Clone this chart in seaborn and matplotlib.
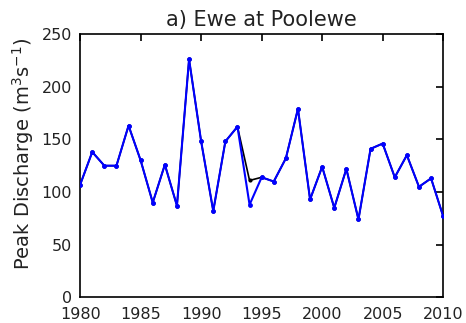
import matplotlib
matplotlib.use("Agg")
import matplotlib.pyplot as plt
import seaborn as sns
import pandas as pd

years = list(range(1980, 2011))
peak_blue = [107, 138, 125, 125, 163, 130, 90, 126, 87, 226, 148, 82,
             148, 162, 88, 114, 110, 132, 179, 93, 124, 85, 122, 74,
             141, 146, 114, 135, 105, 113, 77]
# second series (drawn underneath in black), differs only in 1994
peak_black = [107, 138, 125, 125, 163, 130, 90, 126, 87, 226, 148, 82,
              148, 162, 111, 114, 110, 132, 179, 93, 124, 85, 122, 74,
              141, 146, 114, 135, 105, 113, 77]
xticks = [1980, 1985, 1990, 1995, 2000, 2005, 2010]
yticks = [0, 50, 100, 150, 200, 250]

sns.set_style("white")
plt.rcParams['font.family'] = ['DejaVu Sans']

df_blue = pd.DataFrame({"year": years, "peak": peak_blue})
df_black = pd.DataFrame({"year": years, "peak": peak_black})

fig = plt.figure(figsize=(4.66, 3.23), dpi=100)
ax = fig.add_axes([0.172, 0.079, 0.779, 0.816])

sns.lineplot(data=df_black, x="year", y="peak", ax=ax, color="black",
             linewidth=1.2, marker="o", markersize=3, markeredgewidth=0, zorder=2)
sns.lineplot(data=df_blue, x="year", y="peak", ax=ax, color="#0000ff",
             linewidth=1.5, marker="o", markersize=3.5, markeredgewidth=0, zorder=3)

ax.set_xlim(1980, 2010)
ax.set_ylim(0, 250)
ax.set_xticks(xticks)
ax.set_yticks(yticks)
ax.tick_params(direction="in", length=5, width=1.2, top=True, right=True,
               labelsize=11.5, colors="black", labelcolor="#222222")
ax.tick_params(axis="x", pad=7)
ax.tick_params(axis="y", pad=6)
for s in ax.spines.values():
    s.set_color("black")
    s.set_linewidth(1.2)
ax.set_xlabel("")
ax.set_ylabel("Peak Discharge (m$^3$s$^{-1}$)", fontsize=14, color="#222222")
ax.yaxis.set_label_coords(-0.123, 0.545)
ax.set_title("a) Ewe at Poolewe", fontsize=15, pad=6, color="#222222")

fig.savefig("out.png", dpi=100)
